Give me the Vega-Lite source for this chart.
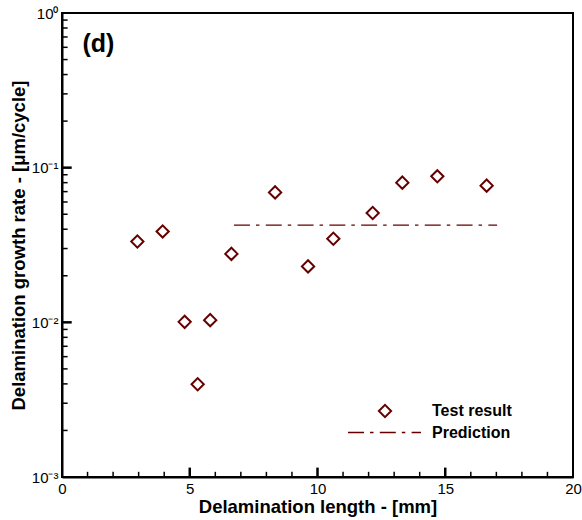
{
  "$schema": "https://vega.github.io/schema/vega-lite/v6.json",
  "width": 511,
  "height": 464,
  "autosize": {"type": "none"},
  "padding": {"left": 62, "top": 13, "right": 9, "bottom": 43},
  "background": "white",
  "config": {
    "view": {"stroke": "black", "strokeWidth": 2},
    "font": "Liberation Sans",
    "axis": {
      "grid": false,
      "ticks": false,
      "domainColor": "black",
      "domainWidth": 2,
      "labelFont": "Liberation Sans",
      "labelFontSize": 15,
      "labelColor": "black",
      "labelOverlap": false,
      "labelFlush": false,
      "titleFont": "Liberation Sans",
      "titleFontSize": 18.5,
      "titleFontWeight": "bold",
      "titleColor": "black"
    },
    "legend": {
      "labelFont": "Liberation Sans",
      "labelFontSize": 16,
      "labelFontWeight": "bold",
      "labelColor": "black",
      "padding": 0
    }
  },
  "resolve": {"axis": {"x": "independent", "y": "independent"}},
  "datasets": {
    "test": [
      {"length": 2.95, "rate": 0.0333, "series": "Test result"},
      {"length": 3.94, "rate": 0.0387, "series": "Test result"},
      {"length": 4.80, "rate": 0.01007, "series": "Test result"},
      {"length": 5.31, "rate": 0.00398, "series": "Test result"},
      {"length": 5.80, "rate": 0.01033, "series": "Test result"},
      {"length": 6.63, "rate": 0.0277, "series": "Test result"},
      {"length": 8.34, "rate": 0.0692, "series": "Test result"},
      {"length": 9.63, "rate": 0.0230, "series": "Test result"},
      {"length": 10.62, "rate": 0.0347, "series": "Test result"},
      {"length": 12.16, "rate": 0.0509, "series": "Test result"},
      {"length": 13.32, "rate": 0.0800, "series": "Test result"},
      {"length": 14.69, "rate": 0.0879, "series": "Test result"},
      {"length": 16.62, "rate": 0.0765, "series": "Test result"}
    ],
    "prediction": [
      {"length": 6.73, "rate": 0.0425, "series": "Prediction"},
      {"length": 17.03, "rate": 0.0425, "series": "Prediction"}
    ],
    "xMajor": [{"v": 5}, {"v": 10}, {"v": 15}],
    "xMinor": [{"v": 1}, {"v": 2}, {"v": 3}, {"v": 4}, {"v": 6}, {"v": 7}, {"v": 8}, {"v": 9}, {"v": 11}, {"v": 12}, {"v": 13}, {"v": 14}, {"v": 16}, {"v": 17}, {"v": 18}, {"v": 19}],
    "yMajor": [{"v": 0.01}, {"v": 0.1}],
    "yMinor": [{"v": 0.002}, {"v": 0.003}, {"v": 0.004}, {"v": 0.005}, {"v": 0.006}, {"v": 0.007}, {"v": 0.008}, {"v": 0.009}, {"v": 0.02}, {"v": 0.03}, {"v": 0.04}, {"v": 0.05}, {"v": 0.06}, {"v": 0.07}, {"v": 0.08}, {"v": 0.09}, {"v": 0.2}, {"v": 0.3}, {"v": 0.4}, {"v": 0.5}, {"v": 0.6}, {"v": 0.7}, {"v": 0.8}, {"v": 0.9}]
  },
  "layer": [
    {
      "data": {"name": "prediction"},
      "mark": {"type": "line", "color": "#660000", "strokeWidth": 1.3},
      "encoding": {
        "x": {
          "field": "length", "type": "quantitative",
          "scale": {"domain": [0, 20], "nice": false, "zero": false},
          "axis": {
            "orient": "bottom",
            "title": "Delamination length - [mm]",
            "values": [0, 5, 10, 15, 20],
            "labelPadding": 4,
            "titlePadding": 1
          }
        },
        "y": {
          "field": "rate", "type": "quantitative",
          "scale": {"type": "log", "domain": [0.001, 1], "nice": false},
          "axis": {
            "orient": "left",
            "title": "Delamination growth rate - [μm/cycle]",
            "values": [0.001, 0.01, 0.1, 1],
            "labelExpr": "datum.value == 1 ? '10⁰' : datum.value == 0.1 ? '10⁻¹' : datum.value == 0.01 ? '10⁻²' : '10⁻³'",
            "labelPadding": 4,
            "titlePadding": 3
          }
        },
        "strokeDash": {
          "field": "series", "type": "nominal",
          "scale": {"domain": ["Prediction"], "range": [[16, 6, 3.5, 6.3]]},
          "legend": {
            "title": null,
            "orient": "none",
            "legendX": 285,
            "legendY": 382,
            "symbolType": "stroke",
            "symbolSize": 5329,
            "symbolStrokeWidth": 1.3,
            "symbolStrokeColor": "#660000",
            "labelOffset": 10
          }
        }
      }
    },
    {
      "data": {"name": "xMajor"},
      "mark": {"type": "rule", "stroke": "#000000", "strokeWidth": 2.5, "strokeOpacity": 1},
      "encoding": {
        "x": {"field": "v", "type": "quantitative", "axis": null},
        "y": {"datum": 0.001, "axis": null},
        "y2": {"datum": 0.00115}
      }
    },
    {
      "data": {"name": "xMinor"},
      "mark": {"type": "rule", "stroke": "#000000", "strokeWidth": 1.5, "strokeOpacity": 1},
      "encoding": {
        "x": {"field": "v", "type": "quantitative", "axis": null},
        "y": {"datum": 0.001, "axis": null},
        "y2": {"datum": 0.00108}
      }
    },
    {
      "data": {"name": "yMajor"},
      "mark": {"type": "rule", "stroke": "#000000", "strokeWidth": 2.5, "strokeOpacity": 1},
      "encoding": {
        "y": {"field": "v", "type": "quantitative", "axis": null},
        "x": {"datum": 0, "axis": null},
        "x2": {"datum": 0.38}
      }
    },
    {
      "data": {"name": "yMinor"},
      "mark": {"type": "rule", "stroke": "#000000", "strokeWidth": 1.5, "strokeOpacity": 1},
      "encoding": {
        "y": {"field": "v", "type": "quantitative", "axis": null},
        "x": {"datum": 0, "axis": null},
        "x2": {"datum": 0.22}
      }
    },
    {
      "data": {"name": "test"},
      "mark": {"type": "point", "shape": "diamond", "filled": false, "color": "#660000", "strokeWidth": 2, "size": 150, "opacity": 1},
      "encoding": {
        "x": {"field": "length", "type": "quantitative", "axis": null},
        "y": {"field": "rate", "type": "quantitative", "axis": null},
        "shape": {
          "field": "series", "type": "nominal",
          "scale": {"domain": ["Test result"], "range": ["diamond"]},
          "legend": {
            "title": null,
            "orient": "none",
            "legendX": 315,
            "legendY": 390,
            "symbolSize": 150,
            "symbolStrokeWidth": 2,
            "symbolStrokeColor": "#660000",
            "symbolFillColor": "transparent",
            "labelOffset": 39
          }
        }
      }
    },
    {
      "data": {"values": [{"label": "(d)"}]},
      "mark": {"type": "text", "font": "Liberation Sans", "fontSize": 25, "fontWeight": "bold", "align": "left", "baseline": "middle", "color": "black"},
      "encoding": {
        "text": {"field": "label"},
        "x": {"datum": 0.8, "axis": null},
        "y": {"datum": 0.63, "axis": null}
      }
    }
  ]
}
